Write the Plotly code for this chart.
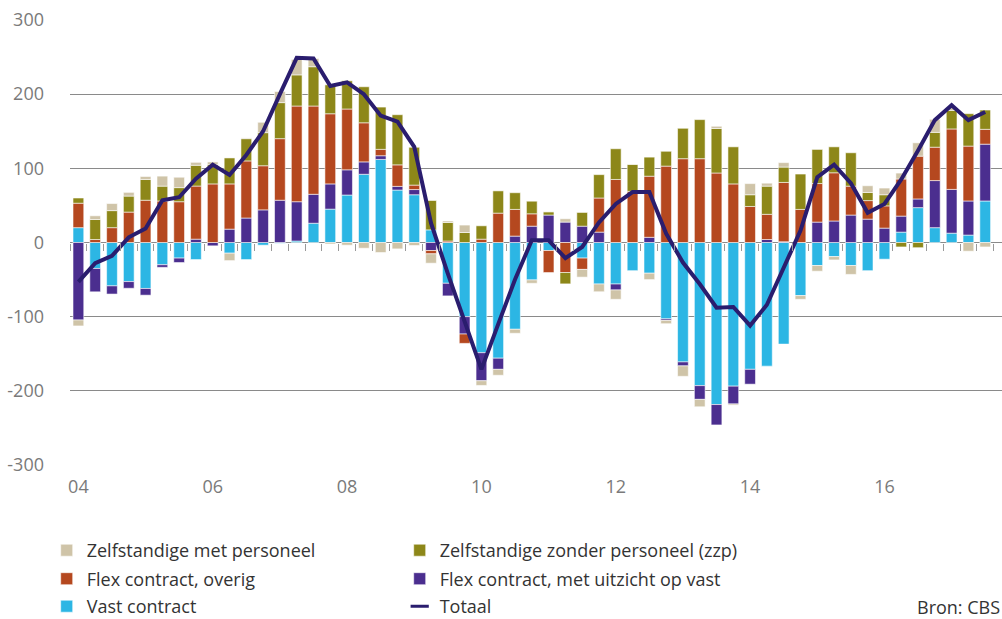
import plotly.graph_objects as go

quarters = [f"{y}K{q}" for y in range(2004, 2018) for q in range(1, 5)][:55]

tick_cats = ["2004K1", "2006K1", "2008K1", "2010K1", "2012K1", "2014K1", "2016K1"]
tick_text = ["04", "06", "08", "10", "12", "14", "16"]
y_ticks = [300, 200, 100, 0, -100, -200, -300]
y_text = ["300", "200", "100", "0", "-100", "-200", "-300"]

vast = [20, -35, -58.5, -52.7, -62, -30, -21, -23, 0, -14.4, -23, -3.6, -1, 2, 26, 45, 64, 92, 112, 70.7,
        64.4, 17, -55, -100, -148.6, -156, -117, -50.5, -10.8, 0, -21, -56, -56, -38, -41.4, -103, -161, -193,
        -218.5, -193.7, -171, -166.7, -137, -71.6, -31, -19, -31, -38, -22.5, 14, 47, 20, 12.6, 10, 56]
uitzicht = [-104.5, -31.5, -11, -9, -9, -3.5, -6, 4.5, -4.5, 18, 33, 44, 57, 53, 39, 34, 34, 16.7, 5, 5,
            7, -10.8, -17, -23.4, -37.8, -15, 8.6, 22, 37, 27.5, 22, 14, -8, 0, 7, -2, -5.4, -18.5,
            -27.5, -24, -20, 4, 1, 0, 27.5, 29, 37, 31.5, 19.4, 21.6, 11.7, 63.5, 59, 46, 76.6]
overig = [33, 4, 20, 41, 57, 56, 55, 71.6, 79, 61, 77, 59.5, 83, 129, 119, 94.6, 82, 52.7, 8.6, 29,
          6, -4.5, 2, -12.6, 4.5, 39.6, 36, 16.7, -29.7, -40.5, -15.3, 46, 85, 69, 82.4, 103, 113, 113,
          93.7, 79, 48.6, 34, 80, 44.6, 52, 65, 39, 25, 30, 50, 57.7, 45, 81.5, 74, 20]
zzp = [7, 27, 23, 21.6, 28, 20, 19, 28, 26, 35, 30, 44.6, 48.6, 42, 53, 39, 38, 48.6, 57, 67.6,
       51, 39.6, 25, 13.5, 18, 30, 22.5, 17, 4.5, -15.3, 18.5, 31.5, 41.4, 36.5, 25.7, 20, 41, 52.7,
       60, 50, 15.8, 38, 20.7, 47.7, 46, 35, 45, 11, 15, -6, -7, 20, 25, 43.7, 26]
zmp = [-8, 5, 9.5, 5, 4, 13.5, 14, 4, 3.6, -10, 1, 14, 15, 20.7, 11, -2, -3.6, -7.7, -13.5, -8.6,
       -4, -12.6, 2, 10, -6.3, -8, -5.4, -4.5, 0, 4.5, -10.4, -10.4, -12.6, 0, -8.6, -4.5, -14, -10,
       3, -1.5, 15, 4, 6, -5, -7.7, -4.5, -12, 9, 9, 8, 18, 17.6, 3.6, -11.7, -6]
totaal = [-53, -28, -18, 7, 19, 57, 61, 86, 105, 91, 118, 150, 200, 249, 248, 211, 216, 200, 171, 163,
          129, 26, -42, -108, -171, -110, -50, 3, 3, -21, -6, 27, 52, 68, 68, 12, -27, -56, -88, -87,
          -112, -84, -33, 16, 88, 105, 80, 40, 52, 85, 124, 165, 185, 165, 176]

boundaries = [i - 0.5 for i in range(len(quarters) + 1)]

C_ZMP = "#cfc4a8"
C_ZZP = "#8d8719"
C_OVERIG = "#b5481f"
C_UITZICHT = "#4b2e8f"
C_VAST = "#2cb6e4"
C_LINE = "#2a1d6e"

FONT = "Open Sans"
edge = dict(width=0.8, color="rgba(255,255,255,0.7)")

fig = go.Figure()
# (name, values, colour, legend id, rank in that legend)
series = [
    ("Vast contract", vast, C_VAST, "legend3", 1),
    ("Flex contract, met uitzicht op vast", uitzicht, C_UITZICHT, "legend2", 2),
    ("Flex contract, overig", overig, C_OVERIG, "legend2", 1),
    ("Zelfstandige zonder personeel (zzp)", zzp, C_ZZP, "legend", 2),
    ("Zelfstandige met personeel", zmp, C_ZMP, "legend", 1),
]
for name, vals, col, leg, rank in series:
    fig.add_trace(go.Bar(x=quarters, y=vals, name=name, marker=dict(color=col, line=edge),
                         legend=leg, legendrank=rank))

fig.add_trace(go.Scatter(x=quarters, y=totaal, mode="lines", line=dict(color=C_LINE, width=4),
                         showlegend=False, name="Totaal"))
fig.add_trace(go.Scatter(x=[None], y=[None], mode="markers", name="Totaal", legend="legend3",
                         legendrank=2,
                         marker=dict(symbol="line-ew-open", size=13, color=C_LINE,
                                     line=dict(color=C_LINE, width=3))))
# zero-line tick marks between quarters
fig.add_trace(go.Scatter(x=[None], y=[None], xaxis="x2", showlegend=False, hoverinfo="skip"))

PLOT_H = 445.0
def leg_y(px):
    return -(px - 465) / PLOT_H

leg_common = dict(orientation="h", x=-0.025, xanchor="left", yanchor="middle",
                  entrywidth=308, traceorder="normal", font=dict(size=18, color="#333333"),
                  bgcolor="rgba(0,0,0,0)")

fig.update_layout(
    width=1002, height=619,
    margin=dict(l=70, r=0, t=20, b=154, autoexpand=False),
    paper_bgcolor="white", plot_bgcolor="white",
    barmode="relative", bargap=0.36,
    font=dict(family=FONT, color="#333333"),
    xaxis=dict(range=[-0.5, 55], tickvals=tick_cats, ticktext=tick_text, showgrid=False,
               showline=False, ticks="", zeroline=False, automargin=False,
               tickfont=dict(size=18, color="#7a7a7a"), ticklabelstandoff=9),
    xaxis2=dict(overlaying="x", anchor="free", position=0.5, range=[-0.5, 55], tickvals=boundaries,
                ticks="outside", ticklen=7, tickwidth=1, tickcolor="#999999", showticklabels=False,
                showgrid=False, showline=False, zeroline=False, automargin=False),
    yaxis=dict(range=[-300, 300], tickvals=y_ticks, ticktext=y_text, showgrid=True,
               gridcolor="#8a8a8a", gridwidth=1, zeroline=True, zerolinecolor="#8a8a8a",
               zerolinewidth=1, showline=False, ticks="", automargin=False,
               tickfont=dict(size=18, color="#7a7a7a"), ticklabelstandoff=25),
    legend=dict(y=leg_y(550.5), **leg_common),
    legend2=dict(y=leg_y(579), **leg_common),
    legend3=dict(y=leg_y(606.5), **leg_common),
    showlegend=True,
    annotations=[dict(text="Bron: CBS", xref="paper", yref="paper", x=1, y=leg_y(606.5),
                      xanchor="right", yanchor="middle", showarrow=False,
                      font=dict(size=18, color="#333333"))],
)

fig.write_html("out.html", config={"displayModeBar": False},
               post_script="document.body.style.margin='0';")
